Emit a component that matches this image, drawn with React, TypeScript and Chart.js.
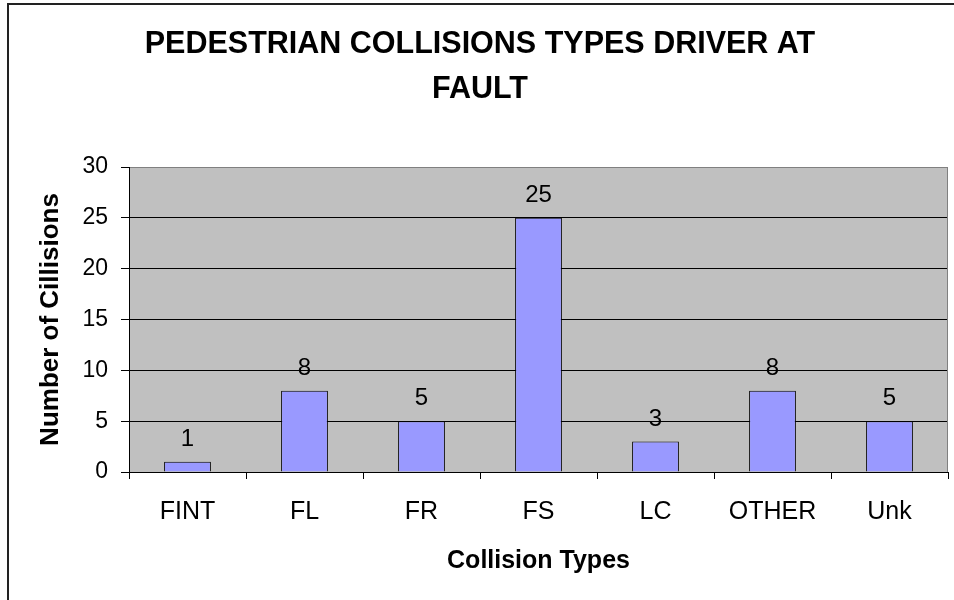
import React, { useEffect, useRef } from "react";
import { Chart, registerables } from "chart.js";

Chart.register(...registerables);

const categories = ["FINT", "FL", "FR", "FS", "LC", "OTHER", "Unk"];
const collisions = [1, 8, 5, 25, 3, 8, 5];
const titleLines = ["PEDESTRIAN COLLISIONS TYPES DRIVER AT", "FAULT"];
const xTitle = "Collision Types";
const yTitle = "Number of Cillisions";

const FONT = "'Liberation Sans', Arial, sans-serif";

const framePlugin = {
  id: "frame",
  beforeDraw(chart: any) {
    const { ctx, chartArea } = chart;
    ctx.save();
    ctx.fillStyle = "#ffffff";
    ctx.fillRect(0, 0, chart.width, chart.height);
    ctx.strokeStyle = "#222222";
    ctx.lineWidth = 2;
    ctx.beginPath();
    ctx.moveTo(8, chart.height);
    ctx.lineTo(8, 4);
    ctx.lineTo(chart.width, 4);
    ctx.stroke();
    ctx.fillStyle = "#C0C0C0";
    ctx.fillRect(chartArea.left, chartArea.top, chartArea.right - chartArea.left, chartArea.bottom - chartArea.top);
    ctx.restore();
  },
  beforeDatasetsDraw(chart: any) {
    const { ctx, chartArea } = chart;
    ctx.save();
    ctx.strokeStyle = "#808080";
    ctx.lineWidth = 1;
    ctx.beginPath();
    ctx.moveTo(Math.round(chartArea.right) - 0.5, chartArea.top);
    ctx.lineTo(Math.round(chartArea.right) - 0.5, chartArea.bottom);
    ctx.stroke();
    ctx.restore();
  },
  afterDatasetsDraw(chart: any) {
    const { ctx } = chart;
    const meta = chart.getDatasetMeta(0);
    const data = chart.data.datasets[0].data;
    ctx.save();
    ctx.fillStyle = "#000";
    ctx.font = `24px ${FONT}`;
    ctx.textAlign = "center";
    ctx.textBaseline = "alphabetic";
    meta.data.forEach((bar: any, i: number) => {
      ctx.fillText(String(data[i]), bar.x, bar.y - 16);
    });
    ctx.restore();
  },
};

export default function App() {
  const ref = useRef<HTMLCanvasElement | null>(null);
  useEffect(() => {
    if (!ref.current) return;
    const chart = new Chart(ref.current, {
      type: "bar",
      data: {
        labels: categories,
        datasets: [
          {
            data: collisions,
            backgroundColor: "#9999FF",
            borderColor: "#000000",
            borderWidth: 1,
            barPercentage: 0.4,
            categoryPercentage: 1.0,
          },
        ],
      },
      options: {
        responsive: false,
        animation: false,
        devicePixelRatio: 1,
        layout: { padding: { left: 12, right: 6, top: 0, bottom: 0 } },
        plugins: {
          legend: { display: false },
          tooltip: { enabled: false },
          title: {
            display: true,
            text: titleLines,
            color: "#000",
            font: { family: FONT, size: 30.5, weight: "bold", lineHeight: "45px" },
            padding: { top: 22, bottom: 55 },
          },
        },
        scales: {
          x: {
            afterFit: (scale: any) => {
              scale.height = 128;
            },
            border: { display: true, color: "#000", width: 1 },
            grid: {
              offset: true,
              drawOnChartArea: false,
              drawTicks: true,
              tickLength: 7,
              tickColor: "#000",
            },
            ticks: {
              color: "#000",
              font: { family: FONT, size: 25 },
              padding: 18,
              maxRotation: 0,
              autoSkip: false,
            },
            title: {
              display: true,
              text: xTitle,
              color: "#000",
              font: { family: FONT, size: 25, weight: "bold" },
              padding: { top: 0, bottom: 24 },
            },
          },
          y: {
            min: 0,
            max: 30,
            afterFit: (scale: any) => {
              scale.width = 117;
            },
            border: { display: true, color: "#000", width: 1 },
            grid: {
              color: (c: any) => (c.tick && c.tick.value === 30 ? "#808080" : "#000000"),
              tickColor: "#000",
              tickLength: 8,
              lineWidth: 1,
            },
            ticks: {
              stepSize: 5,
              color: "#000",
              font: { family: FONT, size: 23 },
              padding: 13,
            },
            title: {
              display: true,
              text: yTitle,
              color: "#000",
              font: { family: FONT, size: 26, weight: "bold" },
              padding: { top: 23, bottom: 0 },
            },
          },
        },
      },
      plugins: [framePlugin],
    });
    return () => chart.destroy();
  }, []);
  return (
    <div style={{ position: "fixed", left: 0, top: 0, width: 954, height: 600, background: "#fff" }}>
      <canvas ref={ref} width={954} height={600} style={{ display: "block" }} />
    </div>
  );
}
